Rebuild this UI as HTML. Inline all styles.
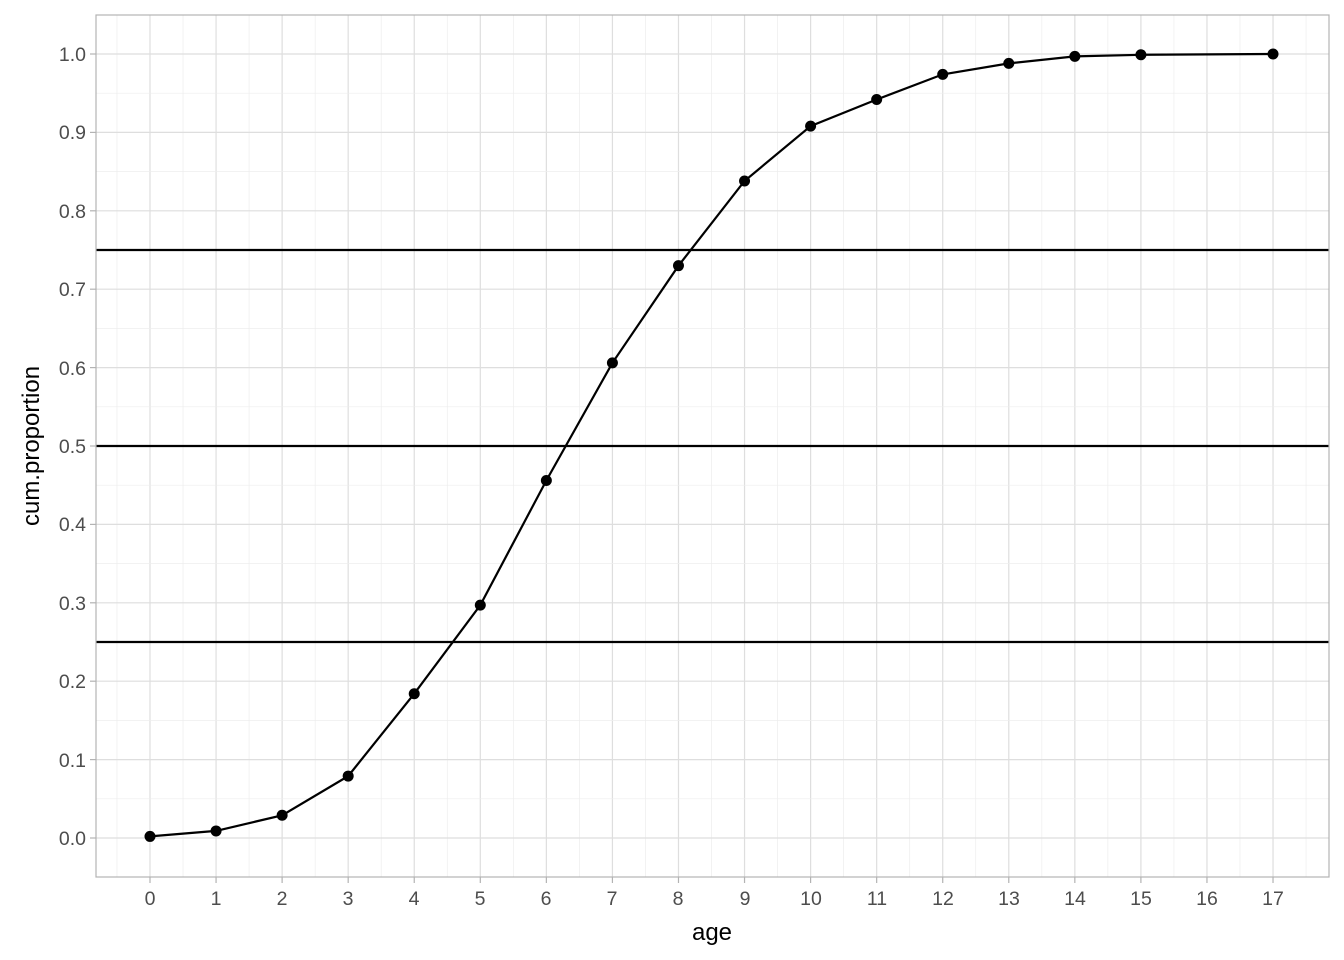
<!DOCTYPE html>
<html><head><meta charset="utf-8"><style>body{margin:0;background:#fff}svg{display:block}text{font-family:"Liberation Sans",sans-serif}</style></head>
<body>
<svg id="s" width="1344" height="960" viewBox="0 0 1344 960">
<g id="grid"></g>
<g stroke="#000" stroke-width="2.2">
<line x1="96" x2="1329" y1="642" y2="642"/>
<line x1="96" x2="1329" y1="446" y2="446"/>
<line x1="96" x2="1329" y1="250" y2="250"/>
</g>
<polyline fill="none" stroke="#000" stroke-width="2.2" points="150,836.4 216.06,830.9 282.12,815.3 348.18,776.1 414.24,693.7 480.3,605.2 546.35,480.5 612.4,362.9 678.5,265.7 744.5,181 810.6,126.1 876.7,99.5 942.7,74.4 1008.8,63.4 1074.8,56.4 1140.9,54.8 1273,54"/>
<g id="pts" fill="#000"></g>
<rect x="96" y="15" width="1233" height="862" fill="none" stroke="#b3b3b3" stroke-width="1.2"/>
<g id="ticks" stroke="#b3b3b3" stroke-width="1.2"></g>
<g font-size="19.5" fill="#4d4d4d" text-anchor="end">
<text x="86" y="845">0.0</text><text x="86" y="767">0.1</text><text x="86" y="688">0.2</text><text x="86" y="610">0.3</text><text x="86" y="531">0.4</text><text x="86" y="453">0.5</text><text x="86" y="375">0.6</text><text x="86" y="296">0.7</text><text x="86" y="218">0.8</text><text x="86" y="139">0.9</text><text x="86" y="61">1.0</text>
</g>
<g font-size="19.5" fill="#4d4d4d" text-anchor="middle">
<text x="150" y="905">0</text><text x="216" y="905">1</text><text x="282" y="905">2</text><text x="348" y="905">3</text><text x="414" y="905">4</text><text x="480" y="905">5</text><text x="546" y="905">6</text><text x="612" y="905">7</text><text x="678" y="905">8</text><text x="745" y="905">9</text><text x="811" y="905">10</text><text x="877" y="905">11</text><text x="943" y="905">12</text><text x="1009" y="905">13</text><text x="1075" y="905">14</text><text x="1141" y="905">15</text><text x="1207" y="905">16</text><text x="1273" y="905">17</text>
</g>
<text x="712" y="940" font-size="24" text-anchor="middle" fill="#000">age</text>
<text transform="translate(39,446) rotate(-90)" font-size="24" text-anchor="middle" fill="#000">cum.proportion</text>
</svg>
<script>
var ns="http://www.w3.org/2000/svg",g=document.getElementById("grid"),t=document.getElementById("ticks"),p=document.getElementById("pts");
function L(par,x1,y1,x2,y2,c,w){var l=document.createElementNS(ns,"line");l.setAttribute("x1",x1);l.setAttribute("y1",y1);l.setAttribute("x2",x2);l.setAttribute("y2",y2);if(c)l.setAttribute("stroke",c);if(w)l.setAttribute("stroke-width",w);par.appendChild(l);}
var X=function(a){return 150+66.06*a},Y=function(v){return 838-784*v};
for(var i=-0.5;i<=17.5;i+=0.5){var maj=i%1==0;L(g,X(i),15,X(i),877,maj?"#dedede":"#ededed",maj?1.2:0.7);if(maj)L(t,X(i),877,X(i),883);}
for(var j=-0.5;j<=10.5;j+=0.5){var v=j/10,maj=j%1==0;L(g,96,Y(v),1329,Y(v),maj?"#dedede":"#ededed",maj?1.2:0.7);if(maj)L(t,90,Y(v),96,Y(v));}
[[0,.002],[1,.009],[2,.029],[3,.079],[4,.184],[5,.297],[6,.456],[7,.606],[8,.73],[9,.838],[10,.908],[11,.942],[12,.974],[13,.988],[14,.997],[15,.999],[17,1]].forEach(function(d){var c=document.createElementNS(ns,"circle");c.setAttribute("cx",X(d[0]));c.setAttribute("cy",Y(d[1]));c.setAttribute("r",5.5);p.appendChild(c);});
</script>
</body></html>
